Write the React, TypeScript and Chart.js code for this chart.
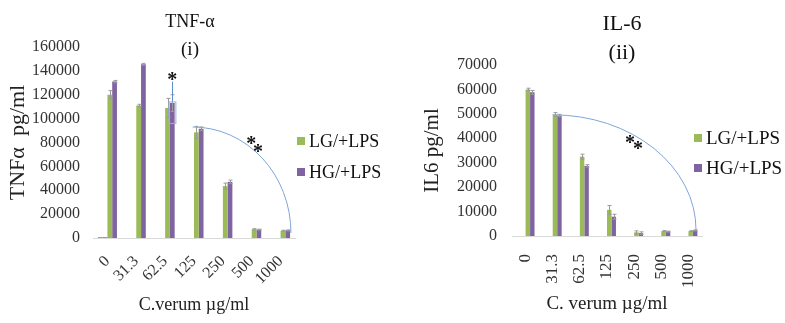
import { useEffect, useRef } from "react";
import { Chart, registerables } from "chart.js";
Chart.register(...registerables);

// ---------- data ----------
const doses = ["0", "31.3", "62.5", "125", "250", "500", "1000"];

const seriesNames = ["LG/-LPS", "HG/-LPS", "LG/+LPS", "HG/+LPS"];
const seriesColors = ["#4F81BD", "#C0504D", "#9BBB59", "#8064A2"];
const legendSeries = [2, 3];

const tnfLgNoLps = [600, 0, 0, 0, 0, 0, 0];
const tnfHgNoLps = [600, 0, 0, 0, 0, 0, 0];
const tnfLgLps = [120000, 111000, 109000, 88500, 43500, 7300, 6100];
const tnfHgLps = [131000, 145500, 113000, 91500, 47000, 7000, 6400];
const tnfLgErr = [3500, 1000, 8000, 5000, 2500, 500, 400];
const tnfHgErr = [1000, 800, 7000, 1500, 1500, 400, 400];

const il6LgNoLps = [0, 0, 0, 0, 0, 0, 0];
const il6HgNoLps = [0, 0, 0, 0, 0, 0, 0];
const il6LgLps = [60000, 49700, 32500, 10700, 1500, 2000, 2000];
const il6HgLps = [58800, 49300, 28700, 7900, 1200, 1800, 2300];
const il6LgErr = [500, 800, 1000, 1800, 600, 200, 200];
const il6HgErr = [800, 500, 500, 1000, 500, 200, 200];

const tnfYMax = 160000;
const tnfYStep = 20000;
const il6YMax = 70000;
const il6YStep = 10000;

// annotations in data space: [category index, value]
const tnfArcFrom = [2.95, 93000];
const tnfArcTo = [6.36, 4200];
const tnfStars = [
  { text: "*", at: [2.25, 136000] },
  { text: "*", at: [4.98, 82000] },
  { text: "*", at: [5.22, 75300] },
];
const tnfSig = { series: 3, index: 2, lineTop: 131000, boxTop: 114000, boxBottom: 96000 };

const il6ArcFrom = [1.0, 49600];
const il6ArcTo = [6.28, 2500];
const il6Stars = [
  { text: "*", at: [3.85, 39800] },
  { text: "*", at: [4.14, 37300] },
];

const FONT = "'Liberation Serif', 'Times New Roman', serif";

type Spec = {
  width: number;
  height: number;
  series: number[][];
  errors: (number[] | null)[];
  yMax: number;
  yStep: number;
  yTitle: string;
  xTitle: string;
  titles: { text: string; x: number; y: number; size: number }[];
  legend: { x: number; rows: number[]; size: number };
  pad: { top: number; right: number };
  yWidth: number;
  xHeight: number;
  yTickPad: number;
  yTitlePad: number;
  yTitleSize: number;
  xTickPad: number;
  xTickSize: number;
  yTickSize: number;
  xTitleSize: number;
  xTitlePad: number;
  rotation: number;
  arc: { from: number[]; to: number[] };
  stars: { text: string; at: number[] }[];
  sig?: { series: number; index: number; lineTop: number; boxTop: number; boxBottom: number };
};

function buildConfig(spec: Spec): any {
  const extras = {
    id: "panelExtras",
    afterDatasetsDraw(chart: any) {
      const ctx = chart.ctx;
      const ys = chart.scales.y;
      ctx.save();
      ctx.strokeStyle = "#9a9a9a";
      ctx.lineWidth = 1;
      spec.errors.forEach((err, di) => {
        if (!err) return;
        const meta = chart.getDatasetMeta(di);
        meta.data.forEach((bar: any, i: number) => {
          const v = spec.series[di][i];
          const e = err[i];
          if (!e) return;
          const px = Math.round(bar.x) + 0.5;
          const yt = ys.getPixelForValue(v + e);
          const yb = ys.getPixelForValue(Math.max(0, v - e));
          ctx.beginPath();
          ctx.moveTo(px, yt);
          ctx.lineTo(px, yb);
          ctx.moveTo(px - 2, yt);
          ctx.lineTo(px + 2, yt);
          ctx.moveTo(px - 2, yb);
          ctx.lineTo(px + 2, yb);
          ctx.stroke();
        });
      });
      ctx.restore();
    },
    afterDraw(chart: any) {
      const ctx = chart.ctx;
      const xs = chart.scales.x;
      const ys = chart.scales.y;
      ctx.save();
      // titles
      ctx.fillStyle = "#111";
      ctx.textAlign = "center";
      ctx.textBaseline = "middle";
      spec.titles.forEach((t) => {
        ctx.font = `${t.size}px ${FONT}`;
        ctx.fillText(t.text, t.x, t.y);
      });
      // legend
      ctx.textAlign = "left";
      ctx.font = `${spec.legend.size}px ${FONT}`;
      legendSeries.forEach((si, k) => {
        const ry = spec.legend.rows[k];
        ctx.fillStyle = seriesColors[si];
        ctx.fillRect(spec.legend.x, ry - 4, 8, 8);
        ctx.fillStyle = "#111";
        ctx.fillText(seriesNames[si], spec.legend.x + 12, ry + 1);
      });
      // arc
      const x0 = xs.getPixelForValue(spec.arc.from[0]);
      const y0 = ys.getPixelForValue(spec.arc.from[1]);
      const x1 = xs.getPixelForValue(spec.arc.to[0]);
      const y1 = ys.getPixelForValue(spec.arc.to[1]);
      ctx.strokeStyle = "#7ea6d8";
      ctx.lineWidth = 1;
      ctx.beginPath();
      ctx.ellipse(x0, y1, x1 - x0, y1 - y0, 0, -Math.PI / 2, 0);
      ctx.stroke();
      // significance marker
      if (spec.sig) {
        const bar = chart.getDatasetMeta(spec.sig.series).data[spec.sig.index];
        const bx = Math.round(bar.x) + 0.5;
        const bw = bar.width;
        ctx.strokeStyle = "#5b8fd0";
        ctx.beginPath();
        ctx.moveTo(bx, ys.getPixelForValue(spec.sig.lineTop));
        ctx.lineTo(bx, ys.getPixelForValue(spec.sig.boxTop));
        ctx.stroke();
        ctx.strokeStyle = "#8fb3e0";
        const tY = ys.getPixelForValue(spec.sig.boxTop);
        const bY = ys.getPixelForValue(spec.sig.boxBottom);
        ctx.strokeRect(bx - bw / 2 - 1, tY, bw + 2, bY - tY);
      }
      // stars
      ctx.fillStyle = "#111";
      ctx.textAlign = "center";
      ctx.textBaseline = "alphabetic";
      ctx.font = `bold 20px ${FONT}`;
      spec.stars.forEach((s) => {
        const sx = xs.getPixelForValue(s.at[0]);
        const sy = ys.getPixelForValue(s.at[1]);
        ctx.fillText(s.text, sx, sy + 10);
      });
      ctx.restore();
    },
  };

  return {
    type: "bar",
    data: {
      labels: doses,
      datasets: spec.series.map((d, i) => ({
        label: seriesNames[i],
        data: d,
        backgroundColor: seriesColors[i],
        borderWidth: 0,
        barPercentage: 1,
        categoryPercentage: 0.66,
      })),
    },
    options: {
      responsive: false,
      animation: false,
      devicePixelRatio: 1,
      layout: { padding: { top: spec.pad.top, right: spec.pad.right, bottom: 0, left: 0 } },
      plugins: {
        legend: { display: false },
        title: { display: false },
        tooltip: { enabled: false },
      },
      scales: {
        x: {
          grid: { display: false, drawTicks: false },
          border: { display: true, color: "#d9d9d9", width: 1 },
          ticks: {
            font: { family: FONT, size: spec.xTickSize },
            color: "#333",
            minRotation: spec.rotation,
            maxRotation: spec.rotation,
            autoSkip: false,
            padding: spec.xTickPad,
          },
          title: {
            display: true,
            text: spec.xTitle,
            font: { family: FONT, size: spec.xTitleSize },
            color: "#222",
            padding: { top: 0, bottom: spec.xTitlePad },
          },
          afterFit: (s: any) => {
            s.height = spec.xHeight;
          },
        },
        y: {
          min: 0,
          max: spec.yMax,
          grid: { display: false, drawTicks: false },
          border: { display: false },
          ticks: {
            stepSize: spec.yStep,
            font: { family: FONT, size: spec.yTickSize },
            color: "#333",
            padding: spec.yTickPad,
            callback: (v: any) => String(v),
          },
          title: {
            display: true,
            text: spec.yTitle,
            font: { family: FONT, size: spec.yTitleSize },
            color: "#222",
            padding: { top: spec.yTitlePad, bottom: 0 },
          },
          afterFit: (s: any) => {
            s.width = spec.yWidth;
          },
        },
      },
    },
    plugins: [extras],
  };
}

const tnfSpec: Spec = {
  width: 400,
  height: 323,
  series: [tnfLgNoLps, tnfHgNoLps, tnfLgLps, tnfHgLps],
  errors: [null, null, tnfLgErr, tnfHgErr],
  yMax: tnfYMax,
  yStep: tnfYStep,
  yTitle: "TNFα  pg/ml",
  xTitle: "C.verum µg/ml",
  titles: [
    { text: "TNF-α", x: 190, y: 22, size: 18 },
    { text: "(i)", x: 190, y: 50, size: 19 },
  ],
  legend: { x: 297, rows: [141, 172], size: 18 },
  pad: { top: 47, right: 105 },
  yWidth: 93,
  xHeight: 85,
  yTickPad: 13,
  yTitlePad: 5,
  yTitleSize: 22,
  xTickPad: 14,
  xTickSize: 16,
  yTickSize: 16,
  xTitleSize: 18,
  xTitlePad: 7,
  rotation: 45,
  arc: { from: tnfArcFrom, to: tnfArcTo },
  stars: tnfStars,
  sig: tnfSig,
};

const il6Spec: Spec = {
  width: 385,
  height: 323,
  series: [il6LgNoLps, il6HgNoLps, il6LgLps, il6HgLps],
  errors: [null, null, il6LgErr, il6HgErr],
  yMax: il6YMax,
  yStep: il6YStep,
  yTitle: "IL6 pg/ml",
  xTitle: "C. verum µg/ml",
  titles: [
    { text: "IL-6", x: 222, y: 24, size: 22 },
    { text: "(ii)", x: 222, y: 53, size: 22 },
  ],
  legend: { x: 294, rows: [138, 168], size: 19 },
  pad: { top: 65, right: 83 },
  yWidth: 112,
  xHeight: 87,
  yTickPad: 15,
  yTitlePad: 20,
  yTitleSize: 21,
  xTickPad: 18,
  xTickSize: 17,
  yTickSize: 16,
  xTitleSize: 19,
  xTitlePad: 8,
  rotation: 90,
  arc: { from: il6ArcFrom, to: il6ArcTo },
  stars: il6Stars,
};

function Panel({ spec }: { spec: Spec }) {
  const ref = useRef<HTMLCanvasElement>(null);
  useEffect(() => {
    const chart = new Chart(ref.current as HTMLCanvasElement, buildConfig(spec));
    return () => chart.destroy();
  }, [spec]);
  return (
    <canvas
      ref={ref}
      width={spec.width}
      height={spec.height}
      style={{ display: "block", width: spec.width, height: spec.height }}
    />
  );
}

export default function App() {
  return (
    <div
      style={{
        position: "absolute",
        left: 0,
        top: 0,
        width: 785,
        height: 323,
        display: "flex",
        background: "#fff",
      }}
    >
      <Panel spec={tnfSpec} />
      <Panel spec={il6Spec} />
    </div>
  );
}
